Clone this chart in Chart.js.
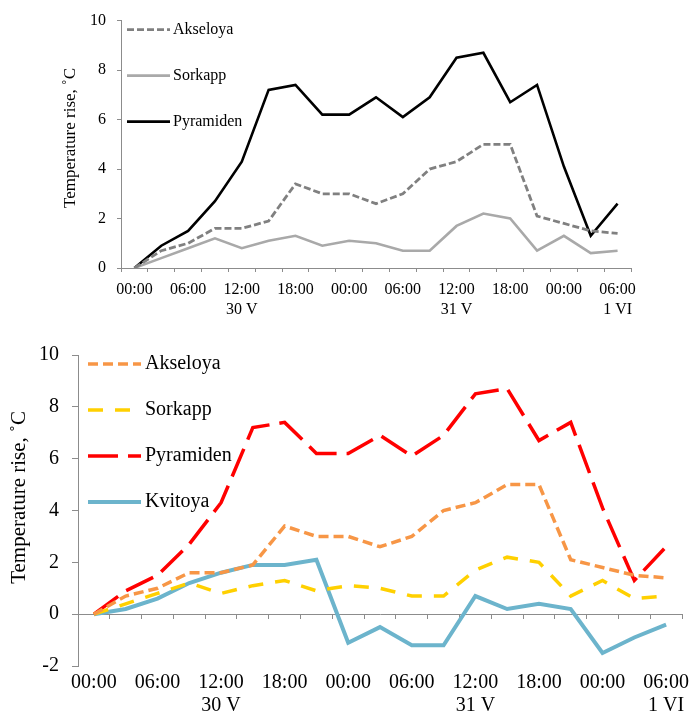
<!DOCTYPE html>
<html>
<head>
<meta charset="utf-8">
<script src="https://cdn.jsdelivr.net/npm/chart.js@4.4.0/dist/chart.umd.min.js"></script>
<style>
  html, body { margin: 0; padding: 0; background: #fff; }
  .box { position: absolute; left: 0; width: 689px; }
  #top { top: 0; height: 330px; }
  #bottom { top: 330px; height: 388px; }
</style>
</head>
<body>
<div class="box" id="top"><canvas id="chartTop"></canvas></div>
<div class="box" id="bottom"><canvas id="chartBottom"></canvas></div>
<script>
// 3-hourly readings, 30 V 00:00 .. 1 VI 06:00
const hours = ['00:00', '03:00', '06:00', '09:00', '12:00', '15:00', '18:00', '21:00',
               '00:00', '03:00', '06:00', '09:00', '12:00', '15:00', '18:00', '21:00',
               '00:00', '03:00', '06:00'];
const days = ['', '', '', '', '30 V', '', '', '', '', '', '', '', '31 V', '', '', '', '', '', '1 VI'];

const akseloya  = [0, 0.7, 1.0, 1.6, 1.6, 1.9, 3.4, 3.0, 3.0, 2.6, 3.0, 4.0, 4.3, 5.0, 5.0, 2.1, 1.8, 1.5, 1.4];
const sorkapp   = [0, 0.4, 0.8, 1.2, 0.8, 1.1, 1.3, 0.9, 1.1, 1.0, 0.7, 0.7, 1.7, 2.2, 2.0, 0.7, 1.3, 0.6, 0.7];
const pyramiden = [0, 0.9, 1.5, 2.7, 4.3, 7.2, 7.4, 6.2, 6.2, 6.9, 6.1, 6.9, 8.5, 8.7, 6.7, 7.4, 4.1, 1.3, 2.6];
const kvitoya   = [0, 0.2, 0.6, 1.2, 1.6, 1.9, 1.9, 2.1, -1.1, -0.5, -1.2, -1.2, 0.7, 0.2, 0.4, 0.2, -1.5, -0.9, -0.4];

const FONT = "'Liberation Serif', 'Times New Roman', serif";
const AXIS = '#8c8c8c';

Chart.defaults.font.family = FONT;
Chart.defaults.color = '#000';
Chart.defaults.animation = false;

// only every other hour gets a label, day names go on a second line
function hourLabel(value, index) {
    if (index % 2 !== 0) return '';
    return days[index] ? [hours[index], days[index]] : hours[index];
}

// legend drawn inside the plot, top-left, like the original figure
const inlineLegend = {
    id: 'inlineLegend',
    afterDatasetsDraw(chart, args, opts) {
        const { ctx, chartArea } = chart;
        ctx.save();
        ctx.font = opts.size + 'px ' + FONT;
        ctx.textBaseline = 'middle';
        ctx.fillStyle = '#000';
        chart.data.datasets.forEach((ds, i) => {
            const y = chartArea.top + opts.top + i * opts.pitch;
            const x0 = chartArea.left + opts.left;
            ctx.beginPath();
            ctx.setLineDash(ds.borderDash || []);
            ctx.strokeStyle = ds.borderColor;
            ctx.lineWidth = ds.borderWidth;
            ctx.moveTo(x0, y);
            ctx.lineTo(x0 + opts.lineLength, y);
            ctx.stroke();
            ctx.setLineDash([]);
            ctx.fillText(ds.label, x0 + opts.lineLength + opts.gap, y);
        });
        ctx.restore();
    }
};

function line(label, data, color, width, dash) {
    return {
        label: label,
        data: data,
        borderColor: color,
        backgroundColor: color,
        borderWidth: width,
        borderDash: dash,
        pointRadius: 0,
        tension: 0,
        fill: false
    };
}

// top chart (grey scale, three stations)
new Chart(document.getElementById('chartTop'), {
    type: 'line',
    data: {
        labels: hours,
        datasets: [
            line('Akseloya', akseloya, '#808080', 2.8, [7, 3]),
            line('Sorkapp', sorkapp, '#a9a9a9', 2.6, []),
            line('Pyramiden', pyramiden, '#000000', 2.6, [])
        ]
    },
    plugins: [inlineLegend],
    options: {
        responsive: true,
        maintainAspectRatio: false,
        layout: { padding: { left: 56, top: 17, right: 58, bottom: 0 } },
        plugins: {
            legend: { display: false },
            tooltip: { enabled: false },
            inlineLegend: { size: 16, top: 9, pitch: 46, left: 6, lineLength: 43, gap: 3 }
        },
        scales: {
            x: {
                offset: true,
                grid: { offset: true, drawOnChartArea: false, color: AXIS, tickLength: 4 },
                border: { color: AXIS },
                ticks: {
                    autoSkip: false, maxRotation: 0, padding: 8,
                    font: { size: 16, lineHeight: 1.25 },
                    callback: hourLabel
                },
                afterFit: s => { s.height = 62; s.paddingLeft = 0; s.paddingRight = 0; }
            },
            y: {
                min: 0, max: 10,
                ticks: { stepSize: 2, padding: 11, font: { size: 16 } },
                grid: { drawOnChartArea: false, color: AXIS, tickLength: 4 },
                border: { color: AXIS },
                title: { display: true, text: '   Temperature rise, ˚C', font: { size: 17 } },
                afterFit: s => { s.width = 65; }
            }
        }
    }
});

// bottom chart (colour, four stations)
new Chart(document.getElementById('chartBottom'), {
    type: 'line',
    data: {
        labels: hours,
        datasets: [
            line('Akseloya', akseloya, '#f79646', 3.5, [10, 5]),
            line('Sorkapp', sorkapp, '#ffd000', 3.5, [15, 12]),
            line('Pyramiden', pyramiden, '#ff0000', 3.5, [30, 10]),
            line('Kvitoya', kvitoya, '#6cb4cc', 4, [])
        ]
    },
    plugins: [inlineLegend],
    options: {
        responsive: true,
        maintainAspectRatio: false,
        layout: { padding: { left: 3, top: 19, right: 7, bottom: 0 } },
        plugins: {
            legend: { display: false },
            tooltip: { enabled: false },
            inlineLegend: { size: 20, top: 9, pitch: 46, left: 10, lineLength: 53, gap: 4 }
        },
        scales: {
            x: {
                offset: true,
                grid: { display: false, drawTicks: false },
                border: { display: false },
                ticks: {
                    autoSkip: false, maxRotation: 0, padding: 5,
                    font: { size: 20, lineHeight: 1.15 },
                    callback: hourLabel
                },
                afterFit: s => { s.height = 52; s.paddingLeft = 0; s.paddingRight = 0; }
            },
            // axis line with category ticks crossing at zero
            x2: {
                type: 'category',
                position: { y: 0 },
                offset: true,
                grid: { offset: true, drawOnChartArea: false, color: AXIS, tickLength: 4 },
                border: { color: AXIS },
                ticks: { display: false },
                afterFit: s => { s.paddingLeft = 0; s.paddingRight = 0; }
            },
            y: {
                min: -2, max: 10,
                ticks: { stepSize: 2, padding: 13, font: { size: 20 } },
                grid: { drawOnChartArea: false, color: AXIS, tickLength: 6 },
                border: { color: AXIS },
                title: { display: true, text: '     Temperature rise, ˚C', font: { size: 21 } },
                afterFit: s => { s.width = 75; }
            }
        }
    }
});
</script>
</body>
</html>
